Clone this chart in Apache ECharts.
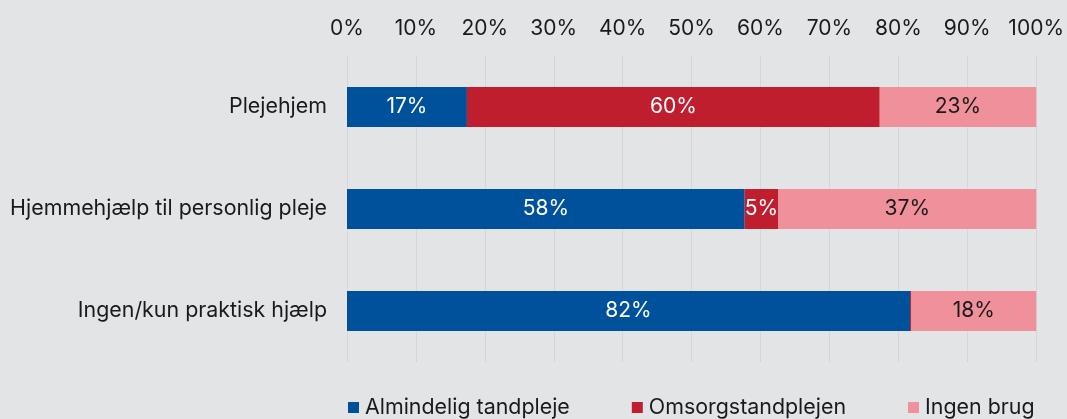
<!DOCTYPE html>
<html>
<head>
<meta charset="utf-8">
<script src="https://cdn.jsdelivr.net/npm/echarts@6/dist/echarts.min.js"></script>
<style>
html,body{margin:0;padding:0;background:#e3e4e6;overflow:hidden;}
#c{width:1067px;height:419px;}
</style>
</head>
<body>
<div id="c"></div>
<script>
const categories = ['Plejehjem', 'Hjemmehjælp til personlig pleje', 'Ingen/kun praktisk hjælp'];
const seriesNames = ['Almindelig tandpleje', 'Omsorgstandplejen', 'Ingen brug'];
const almindelig = [17.4, 57.7, 81.7];
const omsorg = [59.9, 4.9, 0.2];
const ingenBrug = [22.7, 37.4, 18.1];
const colors = ['#00519c', '#bf1e2e', '#ef909a'];
const labelColors = ['#ffffff', '#ffffff', '#1a1a1a'];

const font = 'Inter, "Noto Sans", sans-serif';
const fs = 21;
const chart = echarts.init(document.getElementById('c'));
const dataSets = [almindelig, omsorg, ingenBrug];

chart.setOption({
  backgroundColor: '#e3e4e6',
  animation: false,
  grid: {left: 347, right: 26, top: 56, bottom: 57, containLabel: false},
  legend: {
    top: 397,
    left: 348,
    padding: 0,
    itemWidth: 11,
    itemHeight: 11,
    itemGap: 62,
    icon: 'rect',
    textStyle: {fontFamily: font, fontSize: 21.4, color: '#1a1a1a', padding: [0, 0, 0, 1]},
    data: seriesNames
  },
  xAxis: {
    type: 'value',
    position: 'top',
    min: 0, max: 100, interval: 10,
    axisLine: {show: false},
    axisTick: {show: false},
    axisLabel: {formatter: '{value}%', fontFamily: font, fontSize: fs, color: '#1a1a1a', margin: 17},
    splitLine: {show: true, lineStyle: {color: '#d4d5d7', width: 1}}
  },
  yAxis: {
    type: 'category',
    inverse: true,
    data: categories,
    axisLine: {show: false},
    axisTick: {show: false},
    axisLabel: {fontFamily: font, fontSize: 21.4, color: '#1a1a1a', margin: 20}
  },
  series: seriesNames.map((name, i) => ({
    name: name,
    type: 'bar',
    stack: 'total',
    barWidth: 40,
    itemStyle: {color: colors[i]},
    label: {
      show: true,
      position: 'inside',
      fontFamily: font,
      fontSize: fs,
      color: labelColors[i],
      formatter: p => p.value < 1 ? '' : Math.round(p.value) + '%'
    },
    data: dataSets[i]
  }))
});
</script>
</body>
</html>
